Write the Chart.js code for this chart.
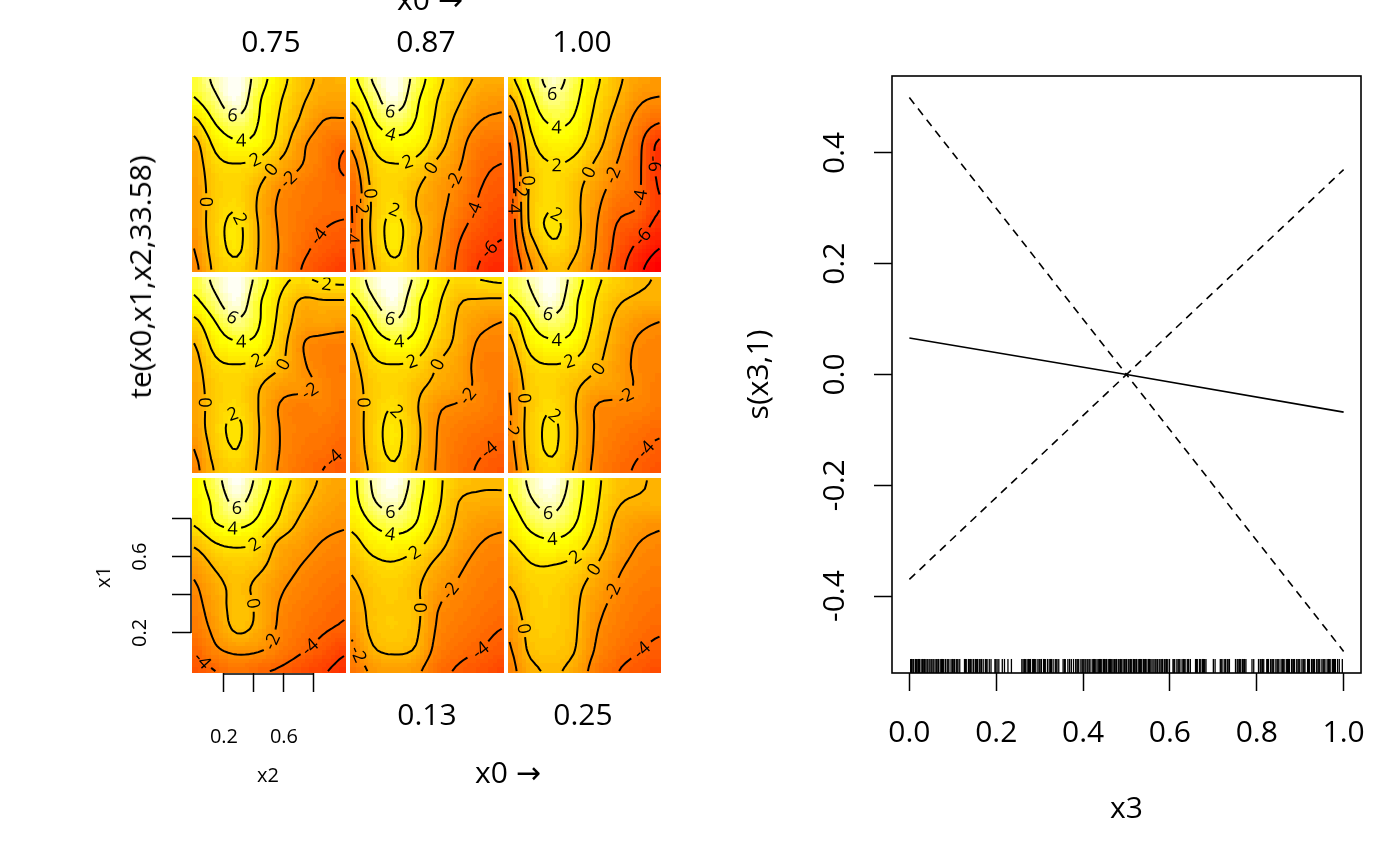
<!DOCTYPE html>
<html>
<head>
<meta charset="utf-8">
<title>te(x0,x1,x2) slices and s(x3)</title>
<script src="https://cdn.jsdelivr.net/npm/chart.js@4.4.1/dist/chart.umd.min.js"></script>
<style>
  html, body { margin: 0; padding: 0; background: #fff; }
  body { width: 1400px; height: 866px; overflow: hidden; position: relative;
         font-family: 'Open Sans', sans-serif; color: #000; }
  #left  { position: absolute; left: 0;     top: 0; width: 700px; height: 866px; }
  #right { position: absolute; left: 700px; top: 0; width: 700px; height: 866px; }
  .lbl { position: absolute; white-space: nowrap; line-height: 1; transform: translate(-50%, -50%); }
  .big { font-size: 30px; }
  .small { font-size: 20px; }
  .rot { transform: translate(-50%, -50%) rotate(-90deg); }
  .arr { font-family: 'DejaVu Sans', sans-serif; }
</style>
</head>
<body>
<div id="left"><canvas id="teChart" width="700" height="866"></canvas></div>
<div id="right"><canvas id="sChart" width="700" height="866"></canvas></div>

<div class="lbl big" style="left:430px; top:-1px;">x0 <span class="arr">→</span></div>
<div class="lbl big" style="left:271px; top:41px;">0.75</div>
<div class="lbl big" style="left:426px; top:41px;">0.87</div>
<div class="lbl big" style="left:582px; top:41px;">1.00</div>
<div class="lbl big" style="left:427px; top:714px;">0.13</div>
<div class="lbl big" style="left:583px; top:714px;">0.25</div>
<div class="lbl big" style="left:508px; top:772px;">x0 <span class="arr">→</span></div>
<div class="lbl big rot" style="left:140px; top:277px;">te(x0,x1,x2,33.58)</div>
<div class="lbl small rot" style="left:103px; top:577px;">x1</div>
<div class="lbl small" style="left:268px; top:775px;">x2</div>

<script>
/* ── Data: te(x0,x1,x2) slices, rows from x1 = 1 (top) down to x1 = 0 ── */
const x2Grid = [0, 0.143, 0.286, 0.429, 0.571, 0.714, 0.857, 1];
const x1Grid = [1, 0.889, 0.778, 0.667, 0.556, 0.444, 0.333, 0.222, 0.111, 0];

const slice000 = [
  [ 3.2,  5.2,  7.5,  5.4,  3.0,  1.2, -0.3, -0.9],
  [ 2.8,  4.5,  6.5,  4.6,  2.4,  0.5, -0.8, -1.3],
  [ 2.2,  4.0,  4.6,  3.6,  1.6, -0.4, -1.4, -1.8],
  [ 0.3,  1.9,  2.3,  1.8, -0.4, -1.3, -2.1, -2.4],
  [-1.4,  0.3,  1.0,  0.5, -1.0, -2.0, -2.6, -2.9],
  [-2.2, -0.6,  0.4, -0.4, -1.7, -2.5, -3.0, -3.4],
  [-2.6, -1.0,  0.6, -0.3, -2.1, -2.9, -3.4, -3.9],
  [-3.0, -1.5,  0.3, -0.5, -2.3, -3.2, -3.8, -4.2],
  [-4.0, -2.3, -1.6, -1.8, -2.8, -3.8, -4.6, -5.7],
  [-4.8, -4.0, -3.2, -3.8, -4.2, -5.0, -5.8, -6.5]
];
const slice125 = [
  [ 3.5,  6.3,  7.6,  5.0,  2.5,  0.8,  0.3,  0.3],
  [ 3.3,  5.8,  6.8,  4.5,  2.4,  0.0, -0.4, -0.5],
  [ 2.5,  4.2,  5.0,  4.0,  1.8, -0.4, -1.3, -1.6],
  [ 1.3,  2.8,  3.2,  2.6,  0.8, -1.0, -2.0, -2.4],
  [ 0.3,  1.5,  1.8,  1.0, -0.5, -1.7, -2.5, -2.8],
  [-0.3,  0.8,  1.2,  0.3, -1.3, -2.2, -2.8, -3.1],
  [-1.0,  0.6,  1.0,  0.4, -1.9, -2.6, -3.1, -3.5],
  [-1.6,  0.5,  1.0,  0.3, -2.2, -3.0, -3.5, -4.0],
  [-2.4, -0.2,  0.3, -0.2, -2.6, -3.5, -4.0, -4.6],
  [-3.2, -1.6, -1.2, -1.6, -3.4, -4.2, -4.8, -5.5]
];
const slice250 = [
  [ 4.2,  6.5,  7.6,  5.2,  2.6,  0.8,  0.2, -0.2],
  [ 3.8,  5.8,  6.7,  4.8,  2.4,  0.3, -0.2, -0.2],
  [ 2.8,  4.6,  5.3,  4.2,  2.0, -0.4, -1.3, -1.7],
  [ 1.8,  3.2,  3.6,  3.0,  1.2, -0.9, -2.0, -2.3],
  [ 0.6,  1.9,  2.0,  1.5,  0.1, -1.6, -2.4, -2.7],
  [ 0.0,  1.2,  1.4,  0.6, -0.8, -2.1, -2.8, -3.0],
  [-0.8,  1.0,  1.3,  0.4, -1.4, -2.5, -3.1, -3.4],
  [-1.6,  0.7,  1.1,  0.3, -1.8, -2.8, -3.4, -3.8],
  [-2.2,  0.4,  0.8,  0.1, -2.1, -3.2, -3.9, -4.4],
  [-2.6, -0.5,  0.2, -0.6, -2.7, -3.9, -4.6, -5.2]
];
const slice375 = [
  [ 4.6,  6.5,  7.6,  5.3,  2.6,  1.8,  2.3,  2.5],
  [ 3.6,  5.6,  7.3,  4.4,  1.9, -0.2, -0.1, -0.1],
  [ 1.5,  4.0,  5.7,  4.2,  1.5, -0.9, -1.0, -1.3],
  [ 0.0,  2.8,  3.8,  3.4,  1.0, -1.8, -2.5, -2.7],
  [-0.6,  1.6,  2.0,  1.6,  0.3, -1.7, -2.6, -3.0],
  [-0.8,  1.0,  1.5,  0.2, -1.2, -1.6, -2.3, -3.0],
  [-1.0,  1.0,  1.8,  0.0, -2.1, -2.8, -2.5, -3.1],
  [-1.2,  1.2,  2.3,  0.1, -2.0, -2.8, -3.0, -3.5],
  [-2.0,  0.8,  2.0,  0.0, -2.0, -3.0, -3.4, -4.0],
  [-2.6,  0.2,  1.2, -0.2, -2.2, -3.3, -4.0, -4.6]
];
const slice500 = [
  [ 4.5,  6.8,  7.7,  5.5,  3.0,  1.5,  2.0,  2.3],
  [ 3.5,  5.8,  7.3,  4.5,  2.4,  0.2, -0.2, -0.3],
  [ 1.2,  4.2,  5.8,  4.2,  1.9, -0.3, -1.4, -2.0],
  [ 0.0,  2.8,  3.8,  3.3,  1.0, -0.5, -2.3, -2.5],
  [-0.6,  1.6,  2.0,  1.6,  0.0, -1.0, -2.6, -2.8],
  [-1.0,  1.0,  1.5,  0.5, -0.5, -1.3, -2.4, -3.0],
  [-1.2,  1.0,  2.0,  0.2, -1.7, -2.2, -2.6, -3.2],
  [-1.4,  1.2,  2.4,  0.5, -2.0, -2.8, -3.3, -3.6],
  [-1.6,  1.1,  2.3,  0.4, -2.1, -3.2, -3.8, -4.2],
  [-2.0,  0.6,  1.8,  0.0, -2.2, -3.4, -4.2, -4.8]
];
const slice625 = [
  [ 4.4,  6.3,  7.6,  5.2,  2.5,  1.2,  0.3, -0.1],
  [ 3.6,  5.5,  7.2,  4.5,  2.0,  0.3, -0.3, -0.4],
  [ 0.8,  4.0,  5.3,  4.2,  1.6, -0.4, -1.5, -2.0],
  [-0.4,  2.8,  3.7,  3.3,  1.0, -0.8, -2.2, -2.4],
  [-1.2,  1.5,  2.0,  1.6,  0.4, -1.2, -2.3, -2.6],
  [-1.9,  1.0,  1.4,  0.4, -0.8, -1.3, -2.2, -2.8],
  [-2.1,  0.8,  1.9,  0.2, -2.0, -2.4, -2.5, -3.0],
  [-2.3,  1.0,  2.3,  0.4, -2.1, -2.8, -3.3, -3.7],
  [-2.6,  0.9,  2.2,  0.3, -2.2, -3.2, -3.8, -4.3],
  [-3.0,  0.4,  1.6, -0.1, -2.4, -3.5, -4.2, -4.9]
];
const slice750 = [
  [ 4.5,  6.5,  7.7,  5.0,  2.8,  0.8, -0.3, -0.2],
  [ 3.8,  5.6,  7.3,  4.3,  2.2,  0.3, -0.8, -1.0],
  [ 1.5,  4.2,  5.5,  4.0,  1.8, -0.3, -2.0, -2.2],
  [-0.5,  2.6,  3.8,  3.4,  1.3, -1.5, -2.8, -3.7],
  [-1.0,  1.5,  2.0,  1.5, -0.3, -1.9, -3.0, -4.2],
  [-1.2,  1.0,  1.5,  0.2, -1.8, -2.8, -3.3, -3.8],
  [-1.3,  1.0,  1.8, -0.2, -2.3, -3.0, -3.4, -3.6],
  [-1.5,  1.2,  2.4,  0.0, -2.2, -3.2, -3.9, -4.3],
  [-2.0,  1.0,  2.3,  0.0, -2.1, -3.5, -4.5, -5.0],
  [-2.5,  0.5,  1.5, -0.2, -2.3, -4.0, -5.2, -6.0]
];
const slice875 = [
  [ 3.5,  6.2,  7.7,  5.2,  2.6,  0.8, -0.3, -0.5],
  [ 2.2,  5.0,  7.2,  4.4,  2.0,  0.2, -1.2, -1.6],
  [ 0.0,  3.8,  5.0,  3.9,  1.6, -0.6, -2.0, -2.3],
  [-1.5,  2.4,  3.5,  3.1,  1.0, -1.3, -3.0, -3.3],
  [-2.8,  1.2,  2.0,  1.5, -0.3, -1.8, -3.5, -4.0],
  [-3.8,  0.6,  1.5,  0.3, -1.2, -2.4, -3.9, -4.5],
  [-4.0,  0.4,  1.9,  0.0, -1.4, -2.8, -4.3, -5.0],
  [-4.1,  0.6,  2.5,  0.5, -1.5, -3.5, -4.8, -5.6],
  [-4.2,  0.3,  2.4,  0.2, -1.8, -4.1, -5.6, -6.3],
  [-4.5, -0.2,  1.5,  0.2, -2.2, -4.4, -6.2, -7.0]
];
const slice1000 = [
  [ 1.5,  4.5,  6.8,  5.0,  2.5,  0.5, -1.0, -1.3],
  [-0.5,  3.5,  5.6,  4.5,  2.0,  0.0, -1.7, -2.2],
  [-2.5,  2.5,  4.3,  3.8,  1.5, -0.7, -2.6, -3.8],
  [-4.0,  1.5,  3.0,  2.8,  0.9, -1.4, -3.4, -6.3],
  [-4.5,  0.8,  2.0,  1.6, -0.2, -2.0, -3.6, -6.5],
  [-4.8,  0.5,  1.8,  0.7, -1.0, -2.6, -3.7, -6.2],
  [-5.0,  0.6,  1.9,  0.6, -1.5, -3.4, -4.0, -5.9],
  [-5.2,  0.4,  2.3,  0.8, -1.8, -4.1, -5.0, -6.8],
  [-5.4, -1.0,  1.6,  0.4, -2.0, -4.5, -6.5, -8.0],
  [-6.0, -2.2,  0.4, -0.4, -2.4, -5.0, -7.5, -9.0]
];

const contourLevels = [-8, -6, -4, -2, 0, 2, 4, 6, 8];
const x2Ticks = [0.2, 0.4, 0.6, 0.8];
const x2TickText = ['0.2', '', '0.6', ''];
const x1Ticks = [0.2, 0.4, 0.6, 0.8];
const x1TickText = ['0.2', '', '0.6', ''];

/* ── Data: s(x3,1) ── */
const x3Grid = [0, 0.5, 1];
const fitValues = [0.066, 0.0, -0.068];
const upperValues = [0.50, 0.0, 0.37];
const lowerValues = [-0.37, 0.0, -0.50];
const x3Ticks = [0, 0.2, 0.4, 0.6, 0.8, 1.0];
const sTicks = [-0.4, -0.2, 0, 0.2, 0.4];
const x3Rug = [
  0.003, 0.005, 0.008, 0.010, 0.014, 0.016, 0.018, 0.021, 0.023, 0.027, 0.030, 0.032, 0.035, 0.038,
  0.041, 0.043, 0.047, 0.050, 0.052, 0.055, 0.059, 0.062, 0.064, 0.067, 0.071, 0.074, 0.076, 0.079,
  0.083, 0.087, 0.089, 0.091, 0.096, 0.099, 0.101, 0.104, 0.108, 0.110, 0.112, 0.116,
  0.127, 0.129, 0.131, 0.136, 0.139, 0.141, 0.144, 0.148, 0.152, 0.155, 0.157, 0.161, 0.163, 0.166,
  0.170, 0.175, 0.177, 0.179, 0.184, 0.188, 0.197, 0.199, 0.202, 0.206, 0.214, 0.219, 0.227, 0.235,
  0.259, 0.262, 0.265, 0.267, 0.271, 0.274, 0.277, 0.279, 0.284, 0.286, 0.288, 0.291, 0.296, 0.299,
  0.301, 0.304, 0.309, 0.311, 0.313, 0.318, 0.322, 0.325, 0.327, 0.331, 0.336, 0.338, 0.340, 0.344,
  0.354, 0.357, 0.359, 0.365, 0.369, 0.373, 0.378,
  0.383, 0.386, 0.388, 0.390, 0.395, 0.398, 0.400, 0.402, 0.405, 0.409, 0.411, 0.414, 0.416, 0.421,
  0.424, 0.426, 0.428, 0.432, 0.435, 0.438, 0.440, 0.443, 0.447, 0.449, 0.451, 0.454, 0.458, 0.461,
  0.463, 0.466, 0.469, 0.472, 0.474, 0.477, 0.481, 0.483, 0.486, 0.488, 0.492, 0.495, 0.497, 0.500,
  0.504, 0.506, 0.509, 0.512, 0.516, 0.518, 0.520, 0.523, 0.527, 0.530, 0.532, 0.535, 0.539, 0.541,
  0.544, 0.547, 0.551, 0.553, 0.556, 0.559, 0.563, 0.566, 0.568, 0.571, 0.575, 0.577, 0.580, 0.583,
  0.587, 0.589, 0.592, 0.595, 0.599,
  0.607, 0.609, 0.611, 0.616, 0.619, 0.621, 0.623, 0.628, 0.631, 0.633, 0.635, 0.640, 0.643, 0.647,
  0.659, 0.661, 0.663, 0.668, 0.671, 0.675, 0.677, 0.680, 0.683,
  0.700, 0.704, 0.716, 0.718, 0.720, 0.725, 0.728, 0.732, 0.734, 0.737,
  0.751, 0.755, 0.757, 0.760, 0.763, 0.767, 0.770, 0.772, 0.775, 0.789, 0.793,
  0.804, 0.808, 0.810, 0.813, 0.816,
  0.823, 0.825, 0.827, 0.832, 0.835, 0.837, 0.839, 0.844, 0.847, 0.849, 0.851, 0.856, 0.859, 0.861,
  0.863, 0.868, 0.871, 0.873, 0.875, 0.880, 0.883, 0.885, 0.887, 0.892, 0.895, 0.897, 0.899, 0.904,
  0.907, 0.909, 0.911,
  0.917, 0.919, 0.921, 0.926, 0.929, 0.931, 0.933, 0.938, 0.941, 0.943, 0.945, 0.950, 0.953, 0.955,
  0.957, 0.962, 0.965, 0.967, 0.969, 0.974, 0.977, 0.979, 0.981, 0.986, 0.990, 0.997
];

/* ── Layout of slices (row 0 = bottom) ── */
const panelGrids = [
  [slice000, slice125, slice250],
  [slice375, slice500, slice625],
  [slice750, slice875, slice1000]
];
const PITCH_X = 1.052, PITCH_Y = 1.0526, EDGE = 0.01;
const FONT = "'Open Sans', sans-serif";

/* ── heat.colors(50) as in R ── */
function hsvToRgb(h, s, v) {
  const i = Math.floor(h * 6), f = h * 6 - i;
  const p = v * (1 - s), q = v * (1 - f * s), t = v * (1 - (1 - f) * s);
  const m = [[v, t, p], [q, v, p], [p, v, t], [p, q, v], [t, p, v], [v, p, q]][i % 6];
  return `rgb(${Math.round(m[0] * 255)},${Math.round(m[1] * 255)},${Math.round(m[2] * 255)})`;
}
function heatColors(n) {
  const j = Math.floor(n / 4), i = n - j, cols = [];
  for (let k = 0; k < i; k++) cols.push(hsvToRgb(k / (i - 1) / 6, 1, 1));
  const s0 = 1 - 1 / (2 * j), s1 = 1 / (2 * j);
  for (let k = 0; k < j; k++) cols.push(hsvToRgb(1 / 6, s0 + (s1 - s0) * k / (j - 1), 1));
  return cols;
}
const palette = heatColors(50);
const allValues = panelGrids.flat(3);
const zMin = Math.min(...allValues), zMax = Math.max(...allValues);
function colourFor(z) {
  const k = Math.floor((z - zMin) / (zMax - zMin) * palette.length);
  return palette[Math.max(0, Math.min(palette.length - 1, k))];
}

/* ── smooth surface through the grid nodes (Catmull-Rom) ── */
function cr(p0, p1, p2, p3, t) {
  return 0.5 * (2 * p1 + (-p0 + p2) * t + (2 * p0 - 5 * p1 + 4 * p2 - p3) * t * t + (-p0 + 3 * p1 - 3 * p2 + p3) * t * t * t);
}
function locate(grid, val) {
  for (let k = 0; k < grid.length - 1; k++) {
    const a = grid[k], b = grid[k + 1];
    if (val >= Math.min(a, b) - 1e-9 && val <= Math.max(a, b) + 1e-9) return [k, (val - a) / (b - a)];
  }
  return [grid.length - 2, 1];
}
function sample(Z, u, v) {
  u = Math.max(0, Math.min(1, u)); v = Math.max(0, Math.min(1, v));
  const [k, t] = locate(x2Grid, u), [m, w] = locate(x1Grid, v);
  const nc = x2Grid.length, nr = x1Grid.length;
  const ci = d => Math.max(0, Math.min(nc - 1, k + d));
  const ri = d => Math.max(0, Math.min(nr - 1, m + d));
  const rows = [-1, 0, 1, 2].map(d => {
    const r = Z[ri(d)];
    return cr(r[ci(-1)], r[ci(0)], r[ci(1)], r[ci(2)], t);
  });
  return cr(rows[0], rows[1], rows[2], rows[3], w);
}

/* ── marching squares ── */
function contourLines(F, NU, NV, level) {
  const segs = [];
  for (let j = 0; j < NV; j++) for (let i = 0; i < NU; i++) {
    const a = F[j][i], b = F[j][i + 1], c = F[j + 1][i + 1], d = F[j + 1][i];
    const A = a > level, B = b > level, C = c > level, D = d > level;
    const E = {};
    if (A !== B) E.bottom = { key: `h${i},${j}`, u: (i + (level - a) / (b - a)) / NU, v: j / NV };
    if (B !== C) E.right = { key: `v${i + 1},${j}`, u: (i + 1) / NU, v: (j + (level - b) / (c - b)) / NV };
    if (D !== C) E.top = { key: `h${i},${j + 1}`, u: (i + (level - d) / (c - d)) / NU, v: (j + 1) / NV };
    if (A !== D) E.left = { key: `v${i},${j}`, u: i / NU, v: (j + (level - a) / (d - a)) / NV };
    const ks = Object.keys(E);
    if (ks.length === 2) segs.push([E[ks[0]], E[ks[1]]]);
    else if (ks.length === 4) {
      if (((a + b + c + d) / 4 > level) === A) { segs.push([E.bottom, E.right]); segs.push([E.top, E.left]); }
      else { segs.push([E.left, E.bottom]); segs.push([E.right, E.top]); }
    }
  }
  const edgeMap = new Map();
  segs.forEach((s, idx) => s.forEach(p => {
    if (!edgeMap.has(p.key)) edgeMap.set(p.key, []);
    edgeMap.get(p.key).push(idx);
  }));
  const used = new Array(segs.length).fill(false);
  const lines = [];
  for (let s0 = 0; s0 < segs.length; s0++) {
    if (used[s0]) continue;
    used[s0] = true;
    const line = [segs[s0][0], segs[s0][1]];
    for (const dir of [1, -1]) {
      while (true) {
        const end = dir === 1 ? line[line.length - 1] : line[0];
        const next = (edgeMap.get(end.key) || []).find(n => !used[n]);
        if (next === undefined) break;
        used[next] = true;
        const [p, q] = segs[next];
        const other = p.key === end.key ? q : p;
        if (dir === 1) line.push(other); else line.unshift(other);
      }
    }
    lines.push(line);
  }
  return lines;
}

/* ── plugin: image + contour for every slice ── */
const slicePlugin = {
  id: 'slices',
  beforeDatasetsDraw(chart) {
    const { ctx, scales: { x, y } } = chart;
    const NU = 35, NV = 45;
    panelGrids.forEach((rowGrids, r) => rowGrids.forEach((Z, c) => {
      const ox = c * PITCH_X, oy = r * PITCH_Y;
      const px = u => x.getPixelForValue(ox + u);
      const py = v => y.getPixelForValue(oy + v);
      // image cells
      for (let j = 0; j < NV; j++) for (let i = 0; i < NU; i++) {
        const u0 = i === 0 ? -EDGE : i / NU, u1 = i === NU - 1 ? 1 + EDGE : (i + 1) / NU;
        const v0 = j === 0 ? -EDGE : j / NV, v1 = j === NV - 1 ? 1 + EDGE : (j + 1) / NV;
        const z = sample(Z, (i + 0.5) / NU, (j + 0.5) / NV);
        const xa = Math.floor(px(u0)), xb = Math.ceil(px(u1));
        const ya = Math.floor(py(v1)), yb = Math.ceil(py(v0));
        ctx.fillStyle = colourFor(z);
        ctx.fillRect(xa, ya, xb - xa, yb - ya);
      }
      // contours
      const F = [];
      for (let j = 0; j <= NV; j++) {
        const row = [];
        for (let i = 0; i <= NU; i++) row.push(sample(Z, i / NU, j / NV));
        F.push(row);
      }
      ctx.save();
      ctx.beginPath();
      ctx.rect(px(-EDGE), py(1 + EDGE), px(1 + EDGE) - px(-EDGE), py(-EDGE) - py(1 + EDGE));
      ctx.clip();
      ctx.strokeStyle = '#000';
      ctx.lineWidth = 2;
      ctx.lineJoin = 'round';
      ctx.font = `18px ${FONT}`;
      contourLevels.forEach(level => {
        contourLines(F, NU, NV, level).forEach(line => {
          const pts = line.map(p => [px(p.u), py(p.v)]);
          const text = String(level);
          const tw = ctx.measureText(text).width;
          let total = 0;
          const cum = [0];
          for (let k = 1; k < pts.length; k++) {
            total += Math.hypot(pts[k][0] - pts[k - 1][0], pts[k][1] - pts[k - 1][1]);
            cum.push(total);
          }
          let label = null;
          if (total > tw + 14) {
            let k = cum.findIndex(l => l >= total / 2);
            k = Math.max(1, Math.min(pts.length - 2, k));
            const a = pts[Math.max(0, k - 2)], b = pts[Math.min(pts.length - 1, k + 2)];
            let ang = Math.atan2(b[1] - a[1], b[0] - a[0]);
            if (ang > Math.PI / 2) ang -= Math.PI;
            if (ang < -Math.PI / 2) ang += Math.PI;
            label = { x: pts[k][0], y: pts[k][1], ang, gap: tw / 2 + 3 };
          }
          ctx.beginPath();
          let pen = false;
          pts.forEach(p => {
            const inGap = label && Math.hypot(p[0] - label.x, p[1] - label.y) < label.gap;
            if (inGap) { pen = false; return; }
            if (pen) ctx.lineTo(p[0], p[1]); else ctx.moveTo(p[0], p[1]);
            pen = true;
          });
          ctx.stroke();
          if (label) {
            ctx.save();
            ctx.translate(label.x, label.y);
            ctx.rotate(label.ang);
            ctx.fillStyle = '#000';
            ctx.textAlign = 'center';
            ctx.textBaseline = 'middle';
            ctx.fillText(text, 0, 1);
            ctx.restore();
          }
        });
      });
      ctx.restore();
    }));
  },
  afterDraw(chart) {
    // axis lines spanning only the ticked range, as R draws them
    const { ctx, chartArea, scales: { x, y } } = chart;
    ctx.save();
    ctx.strokeStyle = '#000';
    ctx.lineWidth = 1.5;
    ctx.beginPath();
    ctx.moveTo(x.getPixelForValue(x2Ticks[0]), chartArea.bottom + 1);
    ctx.lineTo(x.getPixelForValue(x2Ticks[x2Ticks.length - 1]), chartArea.bottom + 1);
    ctx.moveTo(chartArea.left, y.getPixelForValue(x1Ticks[0]));
    ctx.lineTo(chartArea.left, y.getPixelForValue(x1Ticks[x1Ticks.length - 1]));
    ctx.stroke();
    ctx.restore();
  }
};

/* ── plugin: box round the plot region ── */
const framePlugin = {
  id: 'frame',
  afterDatasetsDraw(chart) {
    const { ctx, chartArea: a } = chart;
    ctx.save();
    ctx.strokeStyle = '#000';
    ctx.lineWidth = 1.6;
    ctx.strokeRect(a.left, a.top, a.right - a.left, a.bottom - a.top);
    ctx.restore();
  }
};

/* ── left: te(x0,x1,x2) slices ── */
new Chart(document.getElementById('teChart'), {
  type: 'scatter',
  data: { datasets: [] },
  options: {
    responsive: false,
    animation: false,
    events: [],
    layout: { padding: { left: 0, right: 39, top: 77, bottom: 0 } },
    plugins: { legend: { display: false }, tooltip: { enabled: false } },
    scales: {
      x: {
        type: 'linear', min: -0.02, max: 2 * PITCH_X + 1 + EDGE,
        afterBuildTicks: s => { s.ticks = x2Ticks.map(v => ({ value: v })); },
        afterFit: s => { s.height = 193; },
        ticks: { callback: (v, i) => x2TickText[i], font: { family: FONT, size: 20 }, color: '#000',
                 padding: 33, maxRotation: 0, autoSkip: false },
        grid: { drawOnChartArea: false, tickLength: 19, tickColor: '#000', tickWidth: 1.5 },
        border: { display: false }
      },
      y: {
        type: 'linear', min: -EDGE, max: 2 * PITCH_Y + 1 + EDGE,
        afterBuildTicks: s => { s.ticks = x1Ticks.map(v => ({ value: v })); },
        afterFit: s => { s.width = 191; },
        ticks: { callback: (v, i) => x1TickText[i], font: { family: FONT, size: 20 }, color: '#000',
                 padding: 18, minRotation: 90, maxRotation: 90, crossAlign: 'center', autoSkip: false },
        grid: { drawOnChartArea: false, tickLength: 19, tickColor: '#000', tickWidth: 1.5 },
        border: { display: false }
      }
    }
  },
  plugins: [slicePlugin]
});

/* ── right: s(x3,1) ── */
const toXY = (xs, ys) => xs.map((v, i) => ({ x: v, y: ys[i] }));
const S_MIN = -0.539, S_MAX = 0.539;
const rugY = S_MIN + 0.0127;

new Chart(document.getElementById('sChart'), {
  type: 'scatter',
  data: {
    datasets: [
      { data: toXY(x3Grid, fitValues), showLine: true, pointRadius: 0, borderColor: '#000', borderWidth: 1.6 },
      { data: toXY(x3Grid, upperValues), showLine: true, pointRadius: 0, borderColor: '#000', borderWidth: 1.6, borderDash: [8, 6] },
      { data: toXY(x3Grid, lowerValues), showLine: true, pointRadius: 0, borderColor: '#000', borderWidth: 1.6, borderDash: [8, 6] },
      { data: x3Rug.map(v => ({ x: v, y: rugY })), showLine: false, pointStyle: 'line', rotation: 90,
        pointRadius: 7, borderColor: '#000', borderWidth: 1.3 }
    ]
  },
  options: {
    responsive: false,
    animation: false,
    events: [],
    layout: { padding: { left: 0, right: 39, top: 76, bottom: 0 } },
    plugins: { legend: { display: false }, tooltip: { enabled: false } },
    scales: {
      x: {
        type: 'linear', min: -0.04, max: 1.04,
        afterBuildTicks: s => { s.ticks = x3Ticks.map(v => ({ value: v })); },
        afterFit: s => { s.height = 193; },
        ticks: { callback: v => v.toFixed(1), font: { family: FONT, size: 30 }, color: '#000',
                 padding: 24, maxRotation: 0, autoSkip: false },
        grid: { drawOnChartArea: false, tickLength: 18, tickColor: '#000', tickWidth: 1.5 },
        border: { display: false },
        title: { display: true, text: 'x3', font: { family: FONT, size: 30 }, color: '#000', padding: { top: 0, bottom: 39 } }
      },
      y: {
        type: 'linear', min: S_MIN, max: S_MAX,
        afterBuildTicks: s => { s.ticks = sTicks.map(v => ({ value: v })); },
        afterFit: s => { s.width = 192; },
        ticks: { callback: v => v.toFixed(1), font: { family: FONT, size: 30 }, color: '#000',
                 padding: 13, minRotation: 90, maxRotation: 90, crossAlign: 'center', autoSkip: false },
        grid: { drawOnChartArea: false, tickLength: 18, tickColor: '#000', tickWidth: 1.5 },
        border: { display: false },
        title: { display: true, text: 's(x3,1)', font: { family: FONT, size: 30 }, color: '#000', padding: { top: 41, bottom: 0 } }
      }
    }
  },
  plugins: [framePlugin]
});
</script>
</body>
</html>
